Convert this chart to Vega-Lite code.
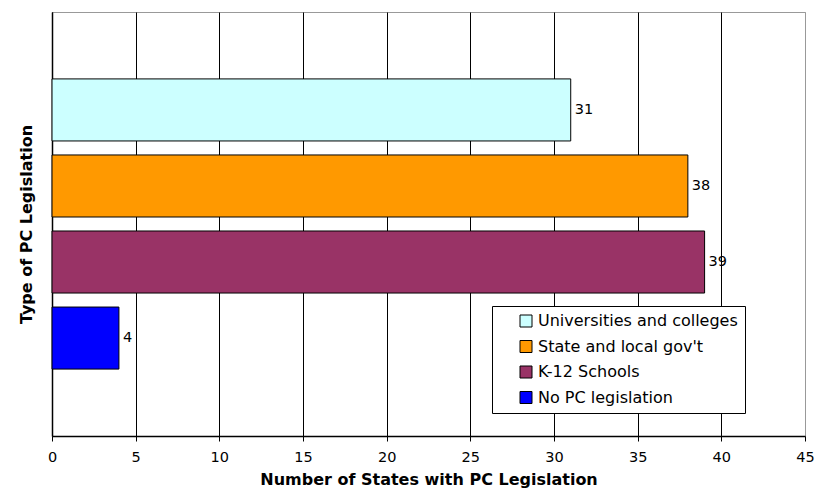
{
  "$schema": "https://vega.github.io/schema/vega-lite/v6.json",
  "width": 753,
  "height": 424,
  "padding": {"left": 52, "top": 12, "right": 10, "bottom": 62},
  "autosize": {"type": "none"},
  "background": "white",
  "config": {
    "font": "DejaVu Sans",
    "view": {"stroke": "#999999", "strokeWidth": 1}
  },
  "data": {
    "values": [
      {"type": "Universities and colleges", "states": 31},
      {"type": "State and local gov't", "states": 38},
      {"type": "K-12 Schools", "states": 39},
      {"type": "No PC legislation", "states": 4}
    ]
  },
  "encoding": {
    "y": {
      "field": "type",
      "type": "nominal",
      "sort": null,
      "scale": {"paddingInner": 0.184, "paddingOuter": 0.88},
      "axis": {
        "title": "Type of PC Legislation",
        "titleFont": "DejaVu Sans",
        "titleFontSize": 16,
        "titleFontWeight": "bold",
        "titleColor": "black",
        "titlePadding": 18,
        "labels": false,
        "ticks": false,
        "domainColor": "black",
        "domainWidth": 1.5
      }
    },
    "x": {
      "field": "states",
      "type": "quantitative",
      "scale": {"domain": [0, 45], "nice": false},
      "axis": {
        "values": [0, 5, 10, 15, 20, 25, 30, 35, 40, 45],
        "title": "Number of States with PC Legislation",
        "titleFont": "DejaVu Sans",
        "titleFontSize": 16,
        "titleFontWeight": "bold",
        "titleColor": "black",
        "titlePadding": 8,
        "labelFont": "DejaVu Sans",
        "labelFontSize": 14.5,
        "labelColor": "black",
        "labelPadding": 9,
        "labelFlush": false,
        "tickColor": "black",
        "tickSize": 5,
        "domainColor": "black",
        "domainWidth": 1.5,
        "grid": true,
        "gridColor": {"condition": {"test": "datum.value === 45", "value": "#999999"}, "value": "black"},
        "gridOpacity": 1
      }
    }
  },
  "layer": [
    {
      "mark": {"type": "bar", "stroke": "black", "strokeWidth": 1},
      "encoding": {
        "color": {
          "field": "type",
          "type": "nominal",
          "sort": null,
          "scale": {
            "domain": ["Universities and colleges", "State and local gov't", "K-12 Schools", "No PC legislation"],
            "range": ["#CCFFFF", "#FF9900", "#993366", "#0000FF"]
          },
          "legend": {
            "title": null,
            "orient": "none",
            "legendX": 440,
            "legendY": 294,
            "symbolType": "square",
            "symbolSize": 144,
            "symbolStrokeColor": "black",
            "symbolStrokeWidth": 1,
            "symbolOpacity": 1,
            "symbolOffset": 19,
            "labelFont": "DejaVu Sans",
            "labelFontSize": 16,
            "labelColor": "black",
            "labelOffset": 4,
            "rowPadding": 9.5,
            "padding": 7,
            "strokeColor": "black",
            "fillColor": "white",
            "labelLimit": 300
          }
        }
      }
    },
    {
      "mark": {"type": "text", "align": "left", "dx": 4, "fontSize": 14.5, "color": "black"},
      "encoding": {"text": {"field": "states", "type": "quantitative"}}
    }
  ]
}
